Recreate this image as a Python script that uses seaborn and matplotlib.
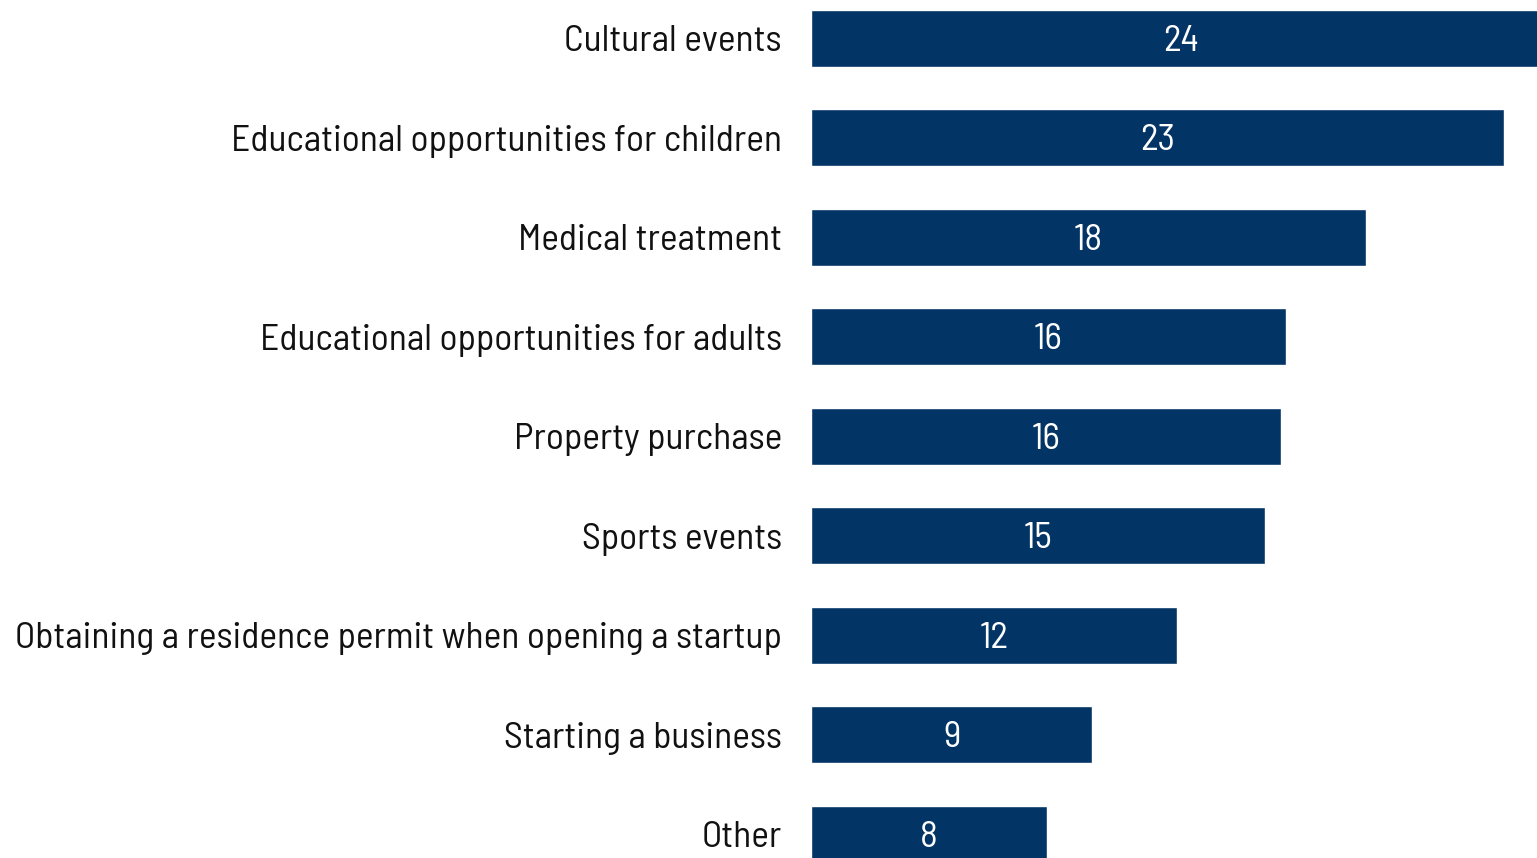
import matplotlib
matplotlib.use("Agg")
import matplotlib.pyplot as plt
import seaborn as sns
import pandas as pd

# values (labels shown rounded)
categories = [
    "Cultural events",
    "Educational opportunities for children",
    "Medical treatment",
    "Educational opportunities for adults",
    "Property purchase",
    "Sports events",
    "Obtaining a residence permit when opening a startup",
    "Starting a business",
    "Other",
]
values = [24.45, 22.9, 18.35, 15.7, 15.55, 15.0, 12.1, 9.3, 7.8]

df = pd.DataFrame({"category": categories, "value": values})

sns.set_style("white")
plt.rcParams["font.family"] = ["Barlow Semi Condensed", "Roboto Condensed",
                               "Open Sans Condensed", "DejaVu Sans"]

fig = plt.figure(figsize=(15.37, 8.58), dpi=100)
ax = fig.add_axes([811 / 1537, 0.0, 1 - 811 / 1537, 1.0])

sns.barplot(data=df, x="value", y="category", color="#023466",
            width=0.573, saturation=1, ax=ax)

for i, v in enumerate(values):
    ax.text(v / 2, i + 0.03, f"{v:.0f}", color="white", fontsize=27,
            ha="center", va="center")

ax.set_xlim(0, 24)
ax.set_ylim(8.24, -0.387)
ax.set_xlabel("")
ax.set_ylabel("")
ax.set_xticks([])
ax.tick_params(axis="y", length=0, pad=21, labelsize=27, labelcolor="#111111")
sns.despine(ax=ax, left=True, bottom=True)

fig.savefig("out.png", dpi=100)
